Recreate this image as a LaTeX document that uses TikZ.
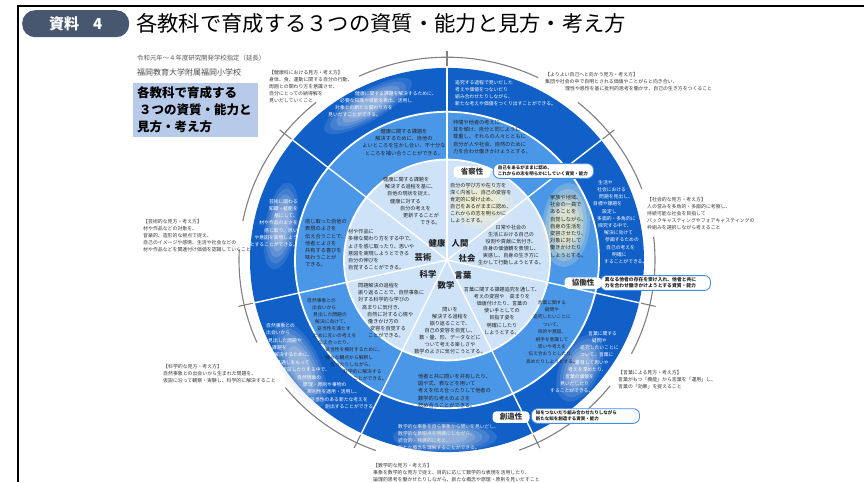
\documentclass[tikz,border=0pt]{standalone}
\usepackage{fontspec}
\setmainfont{Noto Sans CJK JP}
\usetikzlibrary{calc}
\definecolor{dkb}{RGB}{17,96,200}
\definecolor{mdb}{RGB}{74,151,232}
\definecolor{ltb}{RGB}{206,227,248}
\definecolor{pillc}{RGB}{71,87,112}
\definecolor{titbox}{RGB}{184,202,233}
\definecolor{qblue}{RGB}{70,142,222}
\definecolor{cream}{RGB}{242,238,204}
\definecolor{haze}{RGB}{206,215,230}
\definecolor{arcg}{RGB}{128,128,128}
\definecolor{txtd}{RGB}{35,35,35}
\newcommand\softell[7]{%
  \foreach \s/\o in {1/0.14,0.86/0.16,0.72/0.2,0.58/0.24,0.44/0.28}{%
    \pgfmathsetmacro\oo{#7*\o}%
    \fill[#6, opacity=\oo, rotate around={#5:(#1,#2)}] (#1,#2) ellipse[x radius={\s*#3}, y radius={\s*#4}];
  }}
\begin{document}
\begin{tikzpicture}[x=1pt,y=-1pt,
  lbl/.style={anchor=north west, align=left, font=\fontsize{4.9}{7}\selectfont, text=black!78, inner sep=0pt},
  dkt/.style={font=\fontsize{5.2}{7.2}\selectfont, text=txtd, inner sep=0pt},
  wtt/.style={font=\fontsize{4.8}{7.2}\selectfont, text=white, inner sep=0pt},
  nwl/.style={anchor=north west, align=left},
  nct/.style={anchor=north, align=center},
  subj/.style={font=\bfseries\fontsize{8.3}{9}\selectfont, text=txtd, inner sep=0pt},
  pillq/.style={fill=white, rounded corners=4pt, font=\bfseries\fontsize{7.5}{8}\selectfont, text=black!80, minimum width=37, minimum height=11.5, inner sep=0pt},
  qbox/.style={draw=qblue, line width=0.9pt, fill=white, rounded corners=6pt, font=\bfseries\fontsize{4.5}{5.8}\selectfont, align=left, inner xsep=4.5pt, inner ysep=2.2pt, text=txtd, anchor=west},
]
\useasboundingbox (0,0) rectangle (864,482);
\fill[white] (0,0) rectangle (864,482);
% frame
\draw[line width=1.8pt, black] (18,482) -- (18,6) -- (864,6);
% header
\node[fill=pillc, rounded corners=13pt, minimum width=107, minimum height=27, anchor=north west, inner sep=0pt] (pill) at (22,10) {};
\node[font=\bfseries\fontsize{15}{15}\selectfont, text=white, inner sep=0pt] (pilltxt) at (pill.center) {資料\hspace{14pt}4};
\node[anchor=west, font=\fontsize{21.3}{22}\selectfont, inner sep=0pt] (title) at (136,23) {各教科で育成する３つの資質・能力と見方・考え方};
% top-left block
\node[anchor=north west, inner sep=0pt, font=\fontsize{6.4}{7}\selectfont, text=black!65] (sub1) at (137,55) {令和元年～４年度研究開発学校指定（延長）};
\node[anchor=north west, inner sep=0pt, font=\fontsize{8}{9}\selectfont, text=black!70] (sub2) at (137,69) {福岡教育大学附属福岡小学校};
\node[anchor=north west, fill=titbox, minimum width=125, minimum height=54, inner sep=0pt] (tbox) at (133,83) {};
\node[anchor=north west, align=left, inner sep=0pt, font=\bfseries\fontsize{12.5}{17}\selectfont] (ttext) at (137,86) {各教科で育成する\\\hspace*{2pt}３つの資質・能力と\\見方・考え方};
% rings
\begin{scope}[shift={(447,260)}, yscale=0.975]
\fill[dkb] (0,0) circle[radius=197];
\fill[mdb] (0,0) circle[radius=152];
\fill[ltb] (0,0) circle[radius=103];
\end{scope}
% soft highlights
\softell{368}{106}{50}{15}{30}{haze}{1}
\softell{281}{226}{16}{44}{-10}{haze}{1}
\softell{300}{365}{20}{47}{25}{haze}{1}
\softell{445}{437}{52}{15}{0}{haze}{1}
\softell{580}{368}{20}{36}{-25}{haze}{1}
\softell{480}{204}{34}{25}{0}{cream}{1.6}
\softell{566}{225}{24}{42}{-5}{cream}{1.6}
\begin{scope}[shift={(447,260)}, yscale=0.975]
\draw[white, line width=1.8pt] (0,0) circle[radius=152];
\draw[white, line width=1.8pt] (0,0) circle[radius=103];
\foreach \k in {0,...,6} \draw[white, line width=1.4pt] (0,0) -- ({-90+\k*360/7}:197);
\foreach \a/\b in {64/115, 129/169, 177/204, 219/250, 290.3/321.7, 332.5/366.5, 20.5/51}
  \draw[arcg, line width=1.1pt] ({-\a}:208) arc[start angle={-\a}, end angle={-\b}, radius=208];
\foreach \k in {0,...,6} \draw[arcg, line width=1.1pt] ({-90+\k*360/7}:199) -- ({-90+\k*360/7}:214);
\end{scope}
% outer labels
\node[lbl] (l1) at (269,70) {【健康科における見方・考え方】\\身体、食、運動に関する自分の行動、\\周囲との関わり方を意識させ、\\自分にとっての納得解を\\見いだしていくこと};
\node[lbl] (l2) at (545,72) {【よりよい自己へと向かう見方・考え方】\\集団や社会の中で自明とされる価値やことがらと向き合い、\\\hspace*{20pt}理性や感性を基に批判的思考を働かせ、自己の生き方をつくること};
\node[lbl] (l3) at (647,197) {【社会的な見方・考え方】\\人の営みを多角的・多面的に考察し、\\持続可能な社会を目指して\\バックキャスティングやフォアキャスティングの\\枠組みを選択しながら考えること};
\node[lbl] (l4) at (618,370) {【言葉による見方・考え方】\\言葉がもつ「機能」から言葉を「運用」し、\\言葉の「効果」を捉えること};
\node[lbl] (l5) at (373,463) {【数学的な見方・考え方】\\事象を数学的な見方で捉え、目的に応じて数学的な表現を活用したり、\\論理的思考を働かせたりしながら、新たな概念や原理・原則を見いだすこと};
\node[lbl] (l6) at (163,364) {【科学的な見方・考え方】\\自然事象との出会いから生まれた問題を、\\仮説に沿って観察・実験し、科学的に解決すること};
\node[lbl] (l7) at (143,219) {【芸術的な見方・考え方】\\材や作品などの対象を、\\音楽的、造形的な視点で捉え、\\自己のイメージや感情、生活や社会などの\\材や作品などを関連付け価値を認識していくこと};
% outer ring texts (white)
\node[wtt, nwl] (o1) at (328,91) {\hspace*{27pt}健康に関する課題を解決するために、\\\hspace*{12pt}必要な知識や技能を表出、活用し\\\hspace*{7pt}対象との新たな関わり方を\\見いだすことができる。};
\node[wtt, nwl] (o2) at (455,80) {追究する過程で見いだした\\考えや価値をつないだり\\組み合わせたりしながら、\\新たな考えや価値をつくり出すことができる。};
\node[wtt, nwl] (o3) at (593,180) {\hspace*{5pt}生活や\\\hspace*{4pt}社会における\\\hspace*{6pt}問題を見出し、\\目標や課題を\\\hspace*{9pt}設定し\\\hspace*{4pt}多面的・多角的に\\\hspace*{5pt}探究する中で、\\\hspace*{11pt}解決に向けて\\\hspace*{12pt}参画するための\\\hspace*{13pt}自己の考えを\\\hspace*{19pt}明確に\\\hspace*{11pt}することができる。};
\node[wtt, nwl] (o4) at (550,331) {\hspace*{38pt}言葉に関する\\\hspace*{42pt}疑問や\\\hspace*{30pt}追究したいことに\\\hspace*{30pt}ついて、言葉に\\\hspace*{25pt}着目して思いや\\\hspace*{18pt}考えを深めたり、\\\hspace*{15pt}言葉の価値を\\\hspace*{10pt}見いだしたり\\することができる。};
\node[wtt, nwl, text=white!92!black] (o5) at (398,424) {数学的な事象を自ら事象から問いを見いだし、\\数学的な着眼点を明確にしながら、\\統合的・発展的に考え、\\新たな概念を理解することができる。};
\node[wtt, nwl, font=\fontsize{4.8}{7.4}\selectfont] (o6) at (266,323) {自然事象との\\出会いから\\\hspace*{2pt}見出した問題や\\\hspace*{6pt}課題を\\\hspace*{8pt}解決するために、\\\hspace*{10pt}見通しをもって\\\hspace*{16pt}実証したりする中で、\\\hspace*{31pt}自然現象の\\\hspace*{37pt}原理・原則や事物の\\\hspace*{41pt}規則性を適用・活用し、\\\hspace*{44pt}妥当性のある新たな考えを\\\hspace*{59pt}創出することができる。};
\node[wtt, anchor=north east, align=right] (o7) at (298,199) {芸術に関わる\\知識・技能を\\基にして、\\材や作品のよさを\\感じ取り、思い\\や意図を実現しよう\\とすることができる。};
% middle ring texts
\node[dkt, nct] (m1) at (404,129) {健康に関する課題を\\解決するために、自他の\\よいところを生かし合い、不十分な\\ところを補い合うことができる。};
\node[dkt, nwl] (m2) at (453,120) {仲間や他者の考えに\\耳を傾け、自分と同じように\\尊重し、それらの人々とともに\\自分が人や社会、自然のために\\力を合わせ働きかけようとする。};
\node[dkt, nwl] (m3) at (550,195) {家族や地域、\\社会の一員で\\あることを\\自覚しながら、\\自身の生活を\\変容させたり、\\対象に対して\\働きかけたり\\しようとする。};
\node[dkt, nct, font=\fontsize{4.7}{7.4}\selectfont] (m4) at (552,300) {言葉に関する\\疑問や\\追究したいことに\\ついて、\\目的や意図、\\相手を意識して\\思いや考えを\\伝え合おうとしたり、\\高めたりしようとする。};
\node[dkt, nwl] (m5) at (418,374) {他者と共に問いを共有したり、\\図や式、表などを用いて\\考えを伝え合ったりして他者の\\数学的な考えのよさを\\認め合うことができる。};
\node[dkt, nwl, font=\fontsize{4.8}{7.1}\selectfont] (m6) at (305,298) {\hspace*{2pt}自然事象との\\\hspace*{7pt}出会いから\\\hspace*{8pt}見出した問題の\\\hspace*{10pt}解決に向けて、\\\hspace*{12pt}妥当性を満たす\\\hspace*{8pt}ために互いの考えを\\\hspace*{13pt}伝え合ったり、\\\hspace*{20pt}妥当性を検討するために、\\\hspace*{20pt}様々な観点から解釈し\\\hspace*{25pt}合ったりしながら、\\\hspace*{38pt}科学的に解決する\\\hspace*{48pt}ことができる。};
\node[dkt, nwl] (m7) at (305,219) {感じ取った自他の\\表現のよさを\\伝え合うことで、\\他者とよさを\\共有する喜びを\\味わうことが\\できる。};
% inner texts
\node[dkt, nwl, font=\fontsize{5.1}{7.2}\selectfont] (i1) at (383,177) {健康に関する課題を\\\hspace*{2pt}解決する過程を基に、\\\hspace*{4pt}自他の現状を捉え、\\\hspace*{7pt}健康に対する\\\hspace*{17pt}自分の考えを\\\hspace*{20pt}更新することが\\\hspace*{37pt}できる。};
\node[dkt, nwl, font=\fontsize{5.1}{6.9}\selectfont] (i2) at (450,183) {自分の学び方や在り方を\\深く内省し、自己の変容を\\肯定的に受け止め、\\自己をあるがままに認め、\\これからの志を明らかに\\しようとする。};
\node[dkt, nct, font=\fontsize{5.1}{7.1}\selectfont] (i3) at (511,225) {日常や社会の\\生活における自己の\\役割や貢献に気付き、\\自身の価値観を表現し、\\実感し、自身の生き方に\\生かして行動しようとする。};
\node[dkt, nct, font=\fontsize{5.1}{7.1}\selectfont] (i4) at (502,287) {言葉に関する課題追究を通して、\\考えの変容や　高まりを\\価値付けたり、言葉の\\使い手としての\\目指す姿を\\明確にしたり\\しようとする。};
\node[dkt, nct, font=\fontsize{5.1}{7.0}\selectfont] (i5) at (450,307) {問いを\\解決する過程を\\振り返ることで、\\自己の変容を自覚し、\\数・量、形、データなどに\\ついて考える楽しさや\\数学のよさに気付こうとする。};
\node[dkt, nwl, font=\fontsize{5.1}{7.2}\selectfont] (i6) at (358,283) {問題解決の過程を\\振り返ることで、自然事象に\\対する科学的な学びの\\\hspace*{4pt}高まりに気付き、\\\hspace*{9pt}自然に対する心情や\\\hspace*{10pt}働きかけ方の\\\hspace*{12pt}変容を自覚する\\\hspace*{10pt}ことができる。};
\node[dkt, nwl, font=\fontsize{5.1}{7.3}\selectfont] (i7) at (348,229) {材や作品に\\多様な関わり方をする中で、\\よさを感じ取ったり、思いや\\意図を実現しようとできる\\自分の伸びを\\自覚することができる。};
% subject labels
\node[subj] (s1) at (437,243) {健康};
\node[subj] (s2) at (460,243) {人間};
\node[subj] (s3) at (423,257) {芸術};
\node[subj] (s4) at (467,258) {社会};
\node[subj] (s5) at (428,274) {科学};
\node[subj] (s6) at (463,275) {言葉};
\node[subj] (s7) at (446,285) {数学};
% quality labels
\node[qbox, text width=91] (b1) at (493,171) {自己をあるがままに認め、\\これからの志を明らかにしていく資質・能力};
\node[pillq] (p1) at (472,172) {省察性};
\node[qbox, text width=101, font=\bfseries\fontsize{4.8}{5.8}\selectfont] (b2) at (600,283) {異なる他者の存在を受け入れ、他者と共に\\力を合わせ働きかけようとする資質・能力};
\node[pillq] (p2) at (583,283) {協働性};
\node[qbox, text width=99] (b3) at (531,416) {知をつないだり組み合わせたりしながら\\新たな知を創造する資質・能力};
\node[pillq] (p3) at (511,417) {創造性};
\end{tikzpicture}
\end{document}
